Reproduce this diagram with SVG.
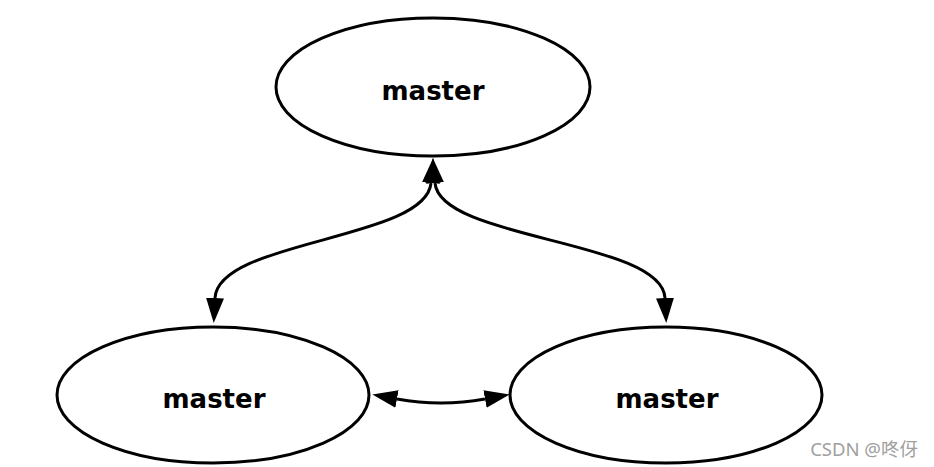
<svg xmlns="http://www.w3.org/2000/svg" width="934" height="467" viewBox="0 0 934 467">
<style>
.node ellipse{fill:#fff;stroke:#000;stroke-width:3}
.node text{font-family:"DejaVu Sans","Liberation Sans",sans-serif;font-weight:bold;font-size:26px;fill:#000;text-anchor:middle}
.edge{fill:none;stroke:#000;stroke-width:3;marker-start:url(#arr);marker-end:url(#arr)}
.wm{font-family:"Noto Sans","Noto Sans CJK SC",sans-serif;font-size:18.5px;fill:#a0a0a0;text-anchor:end}
</style>
<defs>
<marker id="arr" markerUnits="userSpaceOnUse" markerWidth="27" markerHeight="20" refX="0" refY="9" orient="auto-start-reverse">
<path d="M0,0 L25,9 L0,18 z" fill="#000"/>
</marker>
</defs>
<rect width="934" height="467" fill="#fff"/>
<g id="connectors">
<path class="edge" d="M431,183 C426,240 218,240 215,298"/>
<path class="edge" d="M435,183 C440,240 662,240 665,298"/>
<path class="edge" d="M397,399 Q441,407 485,399"/>
</g>
<g id="node-top" class="node">
<ellipse cx="433" cy="87" rx="157" ry="69"/>
<text x="433" y="100">master</text>
</g>
<g id="node-left" class="node">
<ellipse cx="213" cy="395" rx="156" ry="68"/>
<text x="214" y="408">master</text>
</g>
<g id="node-right" class="node">
<ellipse cx="666" cy="395" rx="156" ry="68"/>
<text x="667" y="408">master</text>
</g>
<text class="wm" x="918" y="456">CSDN @咚伢</text>
</svg>
